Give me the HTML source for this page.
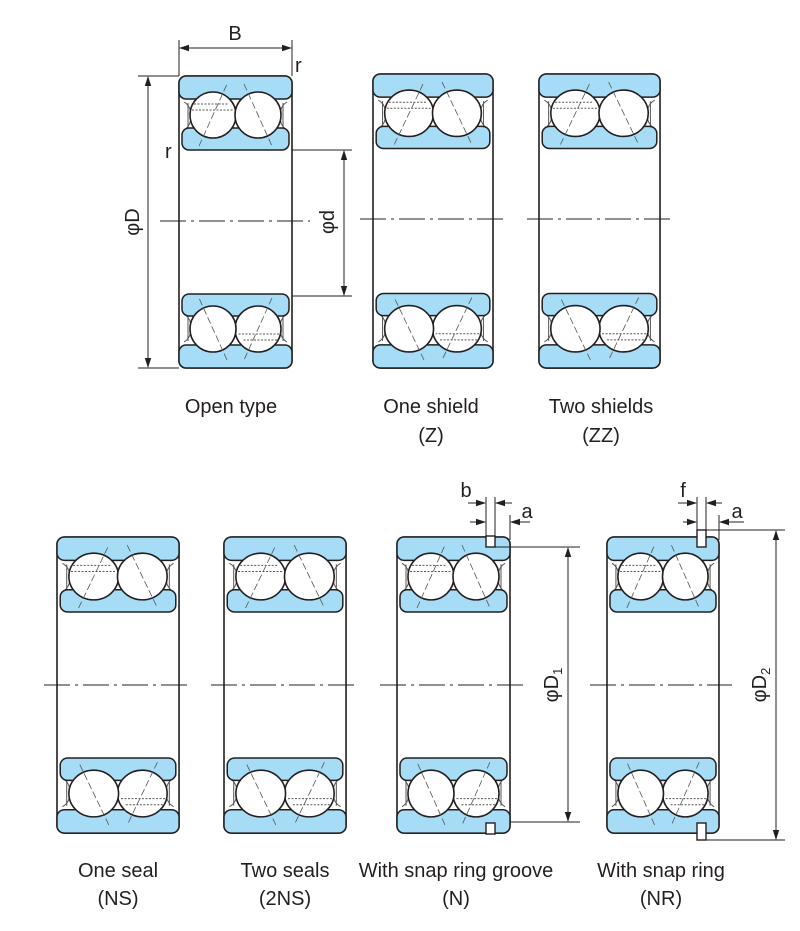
<!DOCTYPE html>
<html><head><meta charset="utf-8"><style>
html,body{margin:0;padding:0;background:#fff}
svg{display:block}
text{font-family:"Liberation Sans",sans-serif;font-size:20px;fill:#231f20}
</style></head><body>
<svg width="800" height="931" viewBox="0 0 800 931" xmlns="http://www.w3.org/2000/svg">
<defs>
<marker id="ar" markerWidth="10" markerHeight="8" refX="9" refY="4" orient="auto" markerUnits="userSpaceOnUse">
<path d="M0,0.8 L10,4 L0,7.2 z" fill="#231f20"/></marker>
<marker id="as" markerWidth="10" markerHeight="8" refX="1" refY="4" orient="auto" markerUnits="userSpaceOnUse"><path d="M10,0.8 L0,4 L10,7.2 z" fill="#231f20"/></marker>
<g id="half">
  <path d="M5,26 Q12,30 12,40 Q12,50 5,54 M9,27 L9,53 M108,26 Q101,30 101,40 Q101,50 108,54 M104,27 L104,53" fill="none" stroke="#555" stroke-width="1" vector-effect="non-scaling-stroke"/>
  <rect x="0" y="0" width="113" height="23" rx="7" fill="#a6dcf6" stroke="#231f20" stroke-width="1.5" vector-effect="non-scaling-stroke"/>
  <rect x="3" y="52" width="107" height="22" rx="7" fill="#a6dcf6" stroke="#231f20" stroke-width="1.5" vector-effect="non-scaling-stroke"/>
  <circle cx="34" cy="39" r="23" fill="#fff" stroke="#231f20" stroke-width="1.6" vector-effect="non-scaling-stroke"/>
  <circle cx="79" cy="39" r="23" fill="#fff" stroke="#231f20" stroke-width="1.6" vector-effect="non-scaling-stroke"/>
  <path d="M15,28 L50,28 M13,34 L54,34" stroke="#555" stroke-width="1" stroke-dasharray="2,1.5" vector-effect="non-scaling-stroke"/>
  <path d="M20,70 L48,8 M65,8 L93,70" stroke="#555" stroke-width="0.8" stroke-dasharray="7,3" vector-effect="non-scaling-stroke"/>
</g>
<g id="brg">
  <rect x="0" y="0" width="113" height="292" rx="7" fill="#fff" stroke="#231f20" stroke-width="1.6" vector-effect="non-scaling-stroke"/>
  <use href="#half"/>
  <use href="#half" transform="rotate(180 56.5 146)"/>
</g>
</defs>

<use href="#brg" transform="translate(179,76) scale(1,1)"/>
<use href="#brg" transform="translate(373,74) scale(1.062,1.007)"/>
<use href="#brg" transform="translate(539,74) scale(1.071,1.007)"/>
<use href="#brg" transform="translate(57,537) scale(1.08,1.014)"/>
<use href="#brg" transform="translate(224,537) scale(1.08,1.014)"/>
<use href="#brg" transform="translate(397,537) scale(1,1.014)"/>
<use href="#brg" transform="translate(607,537) scale(0.991,1.014)"/>

<g stroke="#231f20" stroke-width="1" stroke-dasharray="26,5,3,5">
<line x1="160" y1="221" x2="310" y2="221"/>
<line x1="360" y1="219" x2="505" y2="219"/>
<line x1="527" y1="219" x2="672" y2="219"/>
<line x1="44" y1="685" x2="192" y2="685"/>
<line x1="211" y1="685" x2="359" y2="685"/>
<line x1="380" y1="685" x2="525" y2="685"/>
<line x1="590" y1="685" x2="732" y2="685"/>
</g>

<g fill="#fff" stroke="#231f20" stroke-width="1.4">
<rect x="486" y="536" width="9" height="11"/>
<rect x="486" y="823" width="9" height="11"/>
<rect x="697" y="530" width="9" height="17"/>
<rect x="697" y="823" width="9" height="17"/>
</g>

<g stroke="#231f20" stroke-width="1" fill="none">
<line x1="179" y1="40" x2="179" y2="76"/><line x1="292" y1="40" x2="292" y2="76"/>
<line x1="180" y1="48" x2="291" y2="48" marker-start="url(#as)" marker-end="url(#ar)"/>
<line x1="138" y1="76" x2="179" y2="76"/><line x1="138" y1="368" x2="179" y2="368"/>
<line x1="148" y1="77" x2="148" y2="367" marker-start="url(#as)" marker-end="url(#ar)"/>
<line x1="292" y1="150" x2="352" y2="150"/><line x1="292" y1="296" x2="352" y2="296"/>
<line x1="344" y1="151" x2="344" y2="295" marker-start="url(#as)" marker-end="url(#ar)"/>
<line x1="486" y1="497" x2="486" y2="536"/><line x1="495" y1="497" x2="495" y2="536"/>
<line x1="468" y1="503" x2="485" y2="503" marker-end="url(#ar)"/>
<line x1="512" y1="503" x2="496" y2="503" marker-end="url(#ar)"/>
<line x1="510" y1="515" x2="510" y2="540"/>
<line x1="530" y1="522" x2="511" y2="522" marker-end="url(#ar)"/>
<line x1="470" y1="522" x2="485" y2="522" marker-end="url(#ar)"/>
<line x1="495" y1="547" x2="580" y2="547"/><line x1="510" y1="822" x2="580" y2="822"/>
<line x1="568" y1="548" x2="568" y2="821" marker-start="url(#as)" marker-end="url(#ar)"/>
<line x1="697" y1="497" x2="697" y2="530"/><line x1="706" y1="497" x2="706" y2="530"/>
<line x1="678" y1="503" x2="696" y2="503" marker-end="url(#ar)"/>
<line x1="722" y1="503" x2="707" y2="503" marker-end="url(#ar)"/>
<line x1="719" y1="515" x2="719" y2="540"/>
<line x1="683" y1="522" x2="696" y2="522" marker-end="url(#ar)"/>
<line x1="744" y1="522" x2="720" y2="522" marker-end="url(#ar)"/>
<line x1="706" y1="530" x2="785" y2="530"/><line x1="706" y1="840" x2="785" y2="840"/>
<line x1="776" y1="531" x2="776" y2="839" marker-start="url(#as)" marker-end="url(#ar)"/>
</g>

<text x="235" y="40" text-anchor="middle">B</text>
<text x="295" y="72">r</text>
<text x="165" y="158">r</text>
<text transform="translate(139,222) rotate(-90)" text-anchor="middle">φD</text>
<text transform="translate(334,222) rotate(-90)" text-anchor="middle">φd</text>
<text x="466" y="497" text-anchor="middle">b</text>
<text x="527" y="518" text-anchor="middle">a</text>
<text x="683" y="497" text-anchor="middle">f</text>
<text x="737" y="518" text-anchor="middle">a</text>
<text transform="translate(558,685) rotate(-90)" text-anchor="middle">φD<tspan font-size="13" dy="4">1</tspan></text>
<text transform="translate(766,685) rotate(-90)" text-anchor="middle">φD<tspan font-size="13" dy="4">2</tspan></text>

<g text-anchor="middle">
<text x="231" y="413">Open type</text>
<text x="431" y="413">One shield</text><text x="431" y="442">(Z)</text>
<text x="601" y="413">Two shields</text><text x="601" y="442">(ZZ)</text>
<text x="118" y="877">One seal</text><text x="118" y="905">(NS)</text>
<text x="285" y="877">Two seals</text><text x="285" y="905">(2NS)</text>
<text x="456" y="877">With snap ring groove</text><text x="456" y="905">(N)</text>
<text x="661" y="877">With snap ring</text><text x="661" y="905">(NR)</text>
</g>
</svg>
</body></html>
